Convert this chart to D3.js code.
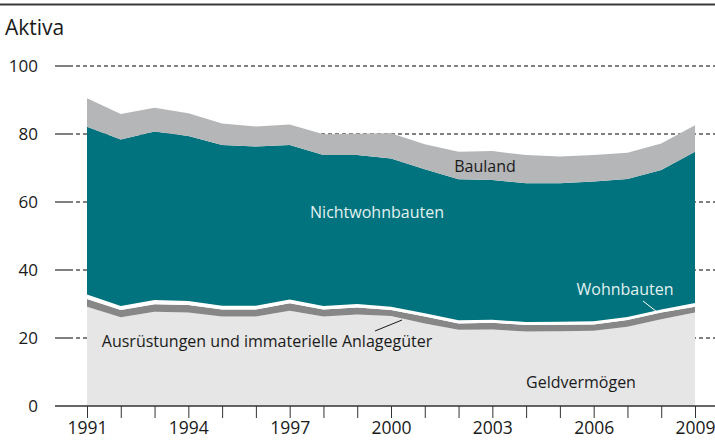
<!DOCTYPE html>
<html>
<head>
<meta charset="utf-8">
<script src="https://cdn.jsdelivr.net/npm/d3@7"></script>
<style>
  html, body { margin: 0; padding: 0; background: #fff; }
  svg { display: block; font-family: "Open Sans", "Noto Sans", sans-serif; }
</style>
</head>
<body>
<svg id="chart" width="715" height="440"></svg>
<script>
// ---- Data (Prozent der Aktiva) ----
const years = [1991,1992,1993,1994,1995,1996,1997,1998,1999,2000,2001,2002,2003,2004,2005,2006,2007,2008,2009];
const geldvermoegen   = [29.2,26.1,27.7,27.5,26.3,26.3,28.0,26.3,26.9,26.5,24.3,22.4,22.5,21.9,22.0,22.1,23.3,25.5,27.5];
const ausruestungen   = [2.3,2.1,2.2,2.2,2.1,2.1,2.2,2.1,2.1,1.7,2.0,1.9,2.0,1.9,1.9,1.9,2.0,2.0,1.7];
const wohnbauten      = [1.3,1.2,1.3,1.2,1.1,1.1,1.1,1.0,1.0,1.0,1.0,0.9,0.9,0.9,0.9,0.9,0.9,0.9,1.1];
const nichtwohnbauten = [49.3,49.0,49.5,48.5,47.3,46.8,45.5,44.4,43.8,43.6,42.3,41.5,41.1,40.8,40.7,41.1,40.6,41.0,44.5];
const bauland         = [8.4,7.5,7.0,6.7,6.3,5.9,6.0,6.1,6.3,7.4,7.4,8.1,8.5,8.3,7.9,7.8,7.7,7.8,7.8];
const yTicks = [0,20,40,60,80,100];
const xTickLabels = [1991,1994,1997,2000,2003,2006,2009];

const seriesKeys = ["Geldvermögen","Ausrüstungen","Wohnbauten","Nichtwohnbauten","Bauland"];
const seriesColors = ["#e6e6e6","#878787","#ffffff","#00737e","#b5b6b8"];
const table = years.map((yr, i) => ({
  year: yr,
  "Geldvermögen": geldvermoegen[i],
  "Ausrüstungen": ausruestungen[i],
  "Wohnbauten": wohnbauten[i],
  "Nichtwohnbauten": nichtwohnbauten[i],
  "Bauland": bauland[i]
}));

const svg = d3.select("#chart");
const W = 715;
const x = d3.scaleLinear().domain([1991, 2009]).range([87, 695]);
const y = d3.scaleLinear().domain([0, 100]).range([406, 66]);

// top rule
svg.append("line").attr("x1", 0).attr("x2", W).attr("y1", 4.5).attr("y2", 4.5)
  .attr("stroke", "#3a3a3a").attr("stroke-width", 2);

// title
svg.append("text").attr("x", 5).attr("y", 35).attr("font-size", 21).attr("fill", "#1a1a1a").text("Aktiva");

// gridlines (behind areas)
const grid = svg.append("g");
yTicks.filter(t => t > 0).forEach(t => {
  grid.append("line").attr("x1", 55).attr("x2", 69).attr("y1", y(t)).attr("y2", y(t))
    .attr("stroke", "#555").attr("stroke-width", 1.5);
  grid.append("line").attr("x1", 69).attr("x2", W).attr("y1", y(t)).attr("y2", y(t))
    .attr("stroke", "#000").attr("stroke-width", 1).attr("stroke-dasharray", "4,3");
});

// stacked areas
const stack = d3.stack().keys(seriesKeys);
const layers = stack(table);
const area = d3.area()
  .x(d => x(d.data.year))
  .y0(d => y(d[0]))
  .y1(d => y(d[1]));
svg.append("g").selectAll("path").data(layers).join("path")
  .attr("d", area)
  .attr("fill", (d, i) => seriesColors[i]);

// baseline
svg.append("line").attr("x1", 55).attr("x2", W).attr("y1", 406).attr("y2", 406)
  .attr("stroke", "#333").attr("stroke-width", 1.5);

// y tick labels
svg.append("g").selectAll("text").data(yTicks).join("text")
  .attr("x", 38).attr("y", d => y(d)).attr("dy", "0.35em")
  .attr("text-anchor", "end").attr("font-size", 17).attr("fill", "#1a1a1a")
  .text(d => d);

// x axis ticks
const xAxis = d3.axisBottom(x)
  .tickValues(years)
  .tickSize(12)
  .tickFormat(d => xTickLabels.includes(d) ? d : "");
const gx = svg.append("g").attr("transform", "translate(0,406)").call(xAxis);
gx.select(".domain").remove();
gx.selectAll(".tick line").attr("stroke", "#333").attr("stroke-width", 1);
gx.selectAll(".tick text").attr("font-size", 17.5).attr("fill", "#1a1a1a")
  .attr("font-family", "'Open Sans', 'Noto Sans', sans-serif").attr("y", 16);

// labels
const lab = svg.append("g").attr("font-size", 16);
lab.append("text").attr("x", 377).attr("y", 218).attr("text-anchor", "middle").attr("fill", "#e3f1f1").text("Nichtwohnbauten");
lab.append("text").attr("x", 485).attr("y", 172).attr("text-anchor", "middle").attr("fill", "#1a1a1a").text("Bauland");
lab.append("text").attr("x", 625).attr("y", 295).attr("text-anchor", "middle").attr("fill", "#e3f1f1").text("Wohnbauten");
lab.append("text").attr("x", 267).attr("y", 347).attr("text-anchor", "middle").attr("fill", "#1a1a1a").text("Ausrüstungen und immaterielle Anlagegüter");
lab.append("text").attr("x", 581).attr("y", 388).attr("text-anchor", "middle").attr("fill", "#1a1a1a").text("Geldvermögen");

// callout lines
svg.append("line").attr("x1", 375).attr("y1", 331).attr("x2", 402).attr("y2", 320)
  .attr("stroke", "#1a1a1a").attr("stroke-width", 1);
svg.append("line").attr("x1", 643).attr("y1", 301).attr("x2", 657).attr("y2", 312)
  .attr("stroke", "#ffffff").attr("stroke-width", 1);
</script>
</body>
</html>
